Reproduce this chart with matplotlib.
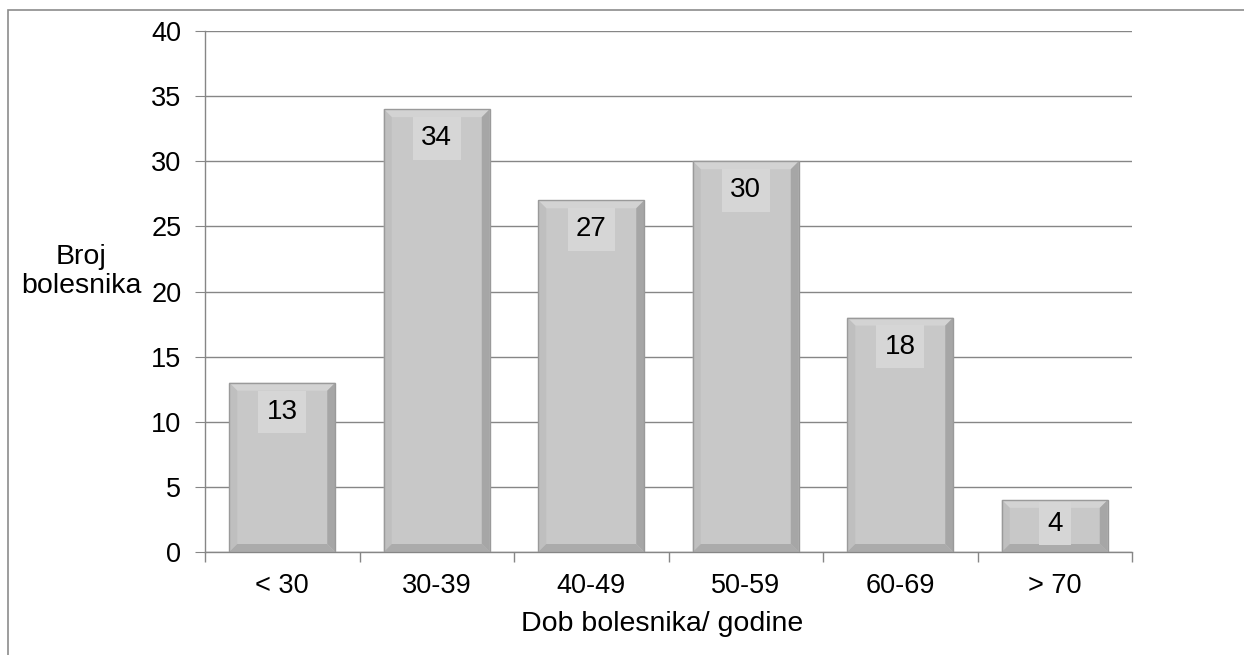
import matplotlib
matplotlib.use("Agg")
import matplotlib.pyplot as plt
from matplotlib.patches import Rectangle, Polygon
from matplotlib.ticker import FixedLocator, NullFormatter

categories = ["< 30", "30-39", "40-49", "50-59", "60-69", "> 70"]
values = [13, 34, 27, 30, 18, 4]
yticks = [0, 5, 10, 15, 20, 25, 30, 35, 40]

plt.rcParams['font.family'] = ['Liberation Sans', 'DejaVu Sans']

W, H = 1244, 655
fig = plt.figure(figsize=(W / 100, H / 100), dpi=100)
L, R, T, B = 205, 1132, 31, 552
ax = fig.add_axes([L / W, (H - B) / H, (R - L) / W, (B - T) / H])

grid_col = "#868686"
ax.set_ylim(0, 40)
ax.set_xlim(-0.5, len(categories) - 0.5)
ax.set_yticks(yticks)
ax.yaxis.grid(True, color=grid_col, linewidth=1.0)
ax.set_axisbelow(True)
for s in ["top", "right"]:
    ax.spines[s].set_visible(False)
for s in ["left", "bottom"]:
    ax.spines[s].set_color(grid_col)
    ax.spines[s].set_linewidth(1.0)
ax.tick_params(axis="y", length=7, color=grid_col, labelsize=19.5, pad=10)
ax.set_xticks(range(len(categories)))
ax.set_xticklabels(categories, fontsize=19.5)
ax.tick_params(axis="x", length=0, pad=15)
ax.xaxis.set_minor_locator(FixedLocator([i - 0.5 for i in range(len(categories) + 1)]))
ax.xaxis.set_minor_formatter(NullFormatter())
ax.tick_params(axis="x", which="minor", length=7, color=grid_col, width=1.0)

bw = 0.686
bars = ax.bar(range(len(categories)), values, width=bw, color="#c8c8c8",
              edgecolor="none", linewidth=0, zorder=2)

# bevel effect (pixel sizes converted to data units)
px_x = (len(categories)) / (R - L)
px_y = 40 / (B - T)
bev = 8
dx, dy = bev * px_x, bev * px_y
for rect in bars:
    x0 = rect.get_x(); x1 = x0 + rect.get_width()
    y0 = 0; y1 = rect.get_height()
    top = Polygon([(x0, y1), (x1, y1), (x1 - dx, y1 - dy), (x0 + dx, y1 - dy)],
                  closed=True, facecolor="#d3d3d3", edgecolor="none", zorder=3)
    left = Polygon([(x0, y0), (x0, y1), (x0 + dx, y1 - dy), (x0 + dx, y0 + dy)],
                   closed=True, facecolor="#bfbfbf", edgecolor="none", zorder=3)
    right = Polygon([(x1, y0), (x1, y1), (x1 - dx, y1 - dy), (x1 - dx, y0 + dy)],
                    closed=True, facecolor="#a6a6a6", edgecolor="none", zorder=3)
    bottom = Polygon([(x0, y0), (x1, y0), (x1 - dx, y0 + dy), (x0 + dx, y0 + dy)],
                     closed=True, facecolor="#ababab", edgecolor="none", zorder=3)
    for p in (top, left, right, bottom):
        ax.add_patch(p)
    ax.add_patch(Rectangle((x0, y0), x1 - x0, y1 - y0, facecolor="none",
                           edgecolor="#9a9a9a", linewidth=1.0, zorder=4))

for i, v in enumerate(values):
    off = -21 if v > 5 else -17
    ax.annotate(str(v), xy=(i, v), xytext=(0, off), textcoords="offset points",
                ha="center", va="center", fontsize=20, zorder=5,
                bbox=dict(boxstyle="square,pad=0.3", facecolor="#d6d6d6", edgecolor="none"))

fig.text(81 / W, 1 - 272 / H, "Broj\nbolesnika", ha="center", va="center",
         fontsize=20.5, linespacing=1.15)
fig.text(662 / W, 1 - 624 / H, "Dob bolesnika/ godine", ha="center", va="center",
         fontsize=20.5)

fig.patches.append(Rectangle((8 / W, -0.1), 1.2, (H - 10) / H + 0.1,
                             transform=fig.transFigure, facecolor="none",
                             edgecolor="#8c8c8c", linewidth=1.2))

fig.savefig("out.png", dpi=100)
